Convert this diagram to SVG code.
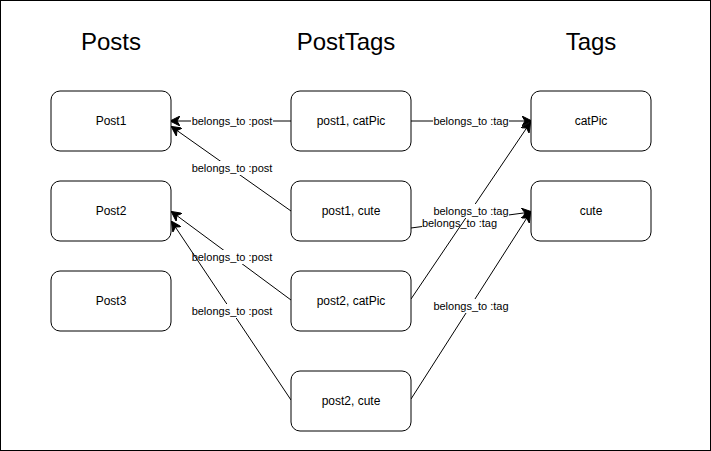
<svg xmlns="http://www.w3.org/2000/svg" width="711" height="451" viewBox="0 0 711 451">
<defs>
<marker id="arr" viewBox="0 0 10 10" refX="9" refY="5" markerWidth="10" markerHeight="10" markerUnits="userSpaceOnUse" orient="auto">
<path d="M0,0 L10,5 L0,10 L3,5 Z" fill="#000" stroke="#000" stroke-width="1"/>
</marker>
</defs>
<style>
.node rect{fill:#fff;stroke:#000;stroke-width:1}
.node text{font-family:"Liberation Sans",Arial,sans-serif;font-size:12px;text-anchor:middle;dominant-baseline:central;fill:#000}
.title{font-family:"Liberation Sans",Arial,sans-serif;font-size:24px;text-anchor:middle;dominant-baseline:central;fill:#000}
.edge{stroke:#000;stroke-width:1;fill:none;marker-end:url(#arr)}
.lbg{fill:#fff}
.lbl{font-family:"Liberation Sans",Arial,sans-serif;font-size:11px;text-anchor:middle;dominant-baseline:central;fill:#000}
</style>
<rect x="0.5" y="0.5" width="710" height="450" fill="#fff" stroke="#000"/>
<text class="title" x="111" y="41">Posts</text>
<text class="title" x="346" y="41">PostTags</text>
<text class="title" x="591" y="41">Tags</text>
<g id="connectors">
<g id="e1"><line class="edge" x1="291" y1="121" x2="171" y2="121"/><rect class="lbg" x="191" y="114" width="82" height="14"/><text class="lbl" x="232" y="121">belongs_to :post</text></g>
<g id="e2"><line class="edge" x1="291" y1="211" x2="172" y2="127"/><rect class="lbg" x="191" y="161" width="82" height="14"/><text class="lbl" x="232" y="168">belongs_to :post</text></g>
<g id="e3"><line class="edge" x1="291" y1="300" x2="172" y2="212"/><rect class="lbg" x="191" y="250" width="82" height="14"/><text class="lbl" x="232" y="257">belongs_to :post</text></g>
<g id="e4"><line class="edge" x1="291" y1="400" x2="172" y2="222"/><rect class="lbg" x="191" y="304" width="82" height="14"/><text class="lbl" x="232" y="311">belongs_to :post</text></g>
<g id="e5"><line class="edge" x1="411" y1="121" x2="531" y2="121"/><rect class="lbg" x="433" y="114" width="76" height="14"/><text class="lbl" x="471" y="121">belongs_to :tag</text></g>
<g id="e6"><line class="edge" x1="411" y1="228" x2="531" y2="212"/><rect class="lbg" x="422" y="216" width="75" height="14"/><text class="lbl" x="459.5" y="223">belongs_to :tag</text></g>
<g id="e7"><line class="edge" x1="411" y1="299" x2="530" y2="123"/><rect class="lbg" x="433" y="204" width="76" height="14"/><text class="lbl" x="471" y="211">belongs_to :tag</text></g>
<g id="e8"><line class="edge" x1="411" y1="399" x2="530" y2="213"/><rect class="lbg" x="433" y="299" width="76" height="14"/><text class="lbl" x="471" y="306">belongs_to :tag</text></g>
</g>
<g id="post1" class="node"><rect x="51" y="91" width="120" height="60" rx="9"/><text x="111" y="121">Post1</text></g>
<g id="post2" class="node"><rect x="51" y="181" width="120" height="60" rx="9"/><text x="111" y="211">Post2</text></g>
<g id="post3" class="node"><rect x="51" y="271" width="120" height="60" rx="9"/><text x="111" y="301">Post3</text></g>
<g id="pt1" class="node"><rect x="291" y="91" width="120" height="60" rx="9"/><text x="351" y="121">post1, catPic</text></g>
<g id="pt2" class="node"><rect x="291" y="181" width="120" height="60" rx="9"/><text x="351" y="211">post1, cute</text></g>
<g id="pt3" class="node"><rect x="291" y="271" width="120" height="60" rx="9"/><text x="351" y="301">post2, catPic</text></g>
<g id="pt4" class="node"><rect x="291" y="371" width="120" height="60" rx="9"/><text x="351" y="401">post2, cute</text></g>
<g id="catpic" class="node"><rect x="531" y="91" width="120" height="60" rx="9"/><text x="591" y="121">catPic</text></g>
<g id="cute" class="node"><rect x="531" y="181" width="120" height="60" rx="9"/><text x="591" y="211">cute</text></g>
</svg>
